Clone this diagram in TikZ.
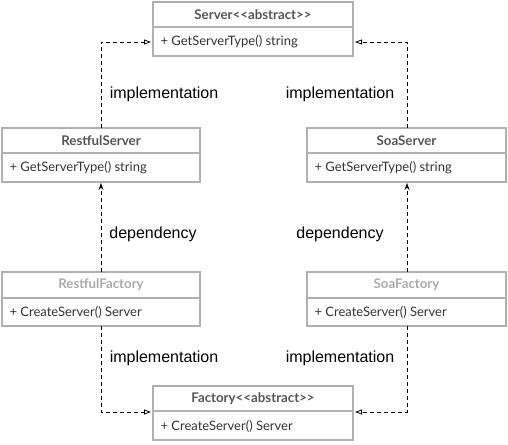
\documentclass[tikz,border=0pt]{standalone}
\usepackage{fontspec}
\setmainfont{Lato}
\newfontfamily\labfont{Liberation Sans}
\usetikzlibrary{arrows.meta}
\definecolor{boxgray}{HTML}{B0B0B0}
\definecolor{headtxt}{HTML}{555555}
\definecolor{lighttxt}{HTML}{AAAAAA}
\definecolor{bodytxt}{HTML}{333333}
\tikzset{
  boxline/.style={draw=boxgray, line width=1.3pt},
  headtext/.style={font=\fontsize{13.3}{15}\selectfont\bfseries, text=headtxt},
  headlight/.style={font=\fontsize{13.3}{15}\selectfont\bfseries, text=lighttxt},
  bodytext/.style={font=\fontsize{13}{15}\selectfont, text=bodytxt, anchor=west},
  conn/.style={draw=black, line width=0.8pt, dash pattern=on 4pt off 3pt},
  implarrow/.style={conn, -{Triangle[open, length=7pt, width=5pt, line width=0.8pt, sep=2pt]}},
  deparrow/.style={conn, -{Stealth[length=7pt, width=5pt, sep=1pt]}},
  lab/.style={font=\labfont\fontsize{16}{18}\selectfont, text=black}
}
\begin{document}
\begin{tikzpicture}[x=1pt, y=-1pt]
\useasboundingbox (0,0) rectangle (508,444);
% Server
\draw[boxline] (153,2) rectangle (353,56);
\draw[boxline] (153,27) -- (353,27);
\node[headtext] (serverH) at (253,14.5) {Server<{}<abstract>{}>};
\node[bodytext] (serverB) at (157,42) {+ GetServerType() string};
\coordinate (serverL) at (153,42);
\coordinate (serverR) at (353,42);
% RestfulServer
\draw[boxline] (2,128) rectangle (200,182);
\draw[boxline] (2,153) -- (200,153);
\node[headtext] (rsH) at (101,140.5) {RestfulServer};
\node[bodytext] (rsB) at (6,168) {+ GetServerType() string};
\coordinate (rsT) at (101,128);
\coordinate (rsBot) at (101,182);
% SoaServer
\draw[boxline] (307,128) rectangle (506,182);
\draw[boxline] (307,153) -- (506,153);
\node[headtext] (ssH) at (406.5,140.5) {SoaServer};
\node[bodytext] (ssB) at (311,168) {+ GetServerType() string};
\coordinate (ssT) at (407,128);
\coordinate (ssBot) at (407,182);
% RestfulFactory
\draw[boxline] (2,272) rectangle (200,326);
\draw[boxline] (2,298) -- (200,298);
\node[headlight] (rfH) at (101,285) {RestfulFactory};
\node[bodytext] (rfB) at (6,312) {+ CreateServer() Server};
\coordinate (rfT) at (101,272);
\coordinate (rfBot) at (101,326);
% SoaFactory
\draw[boxline] (307,272) rectangle (506,326);
\draw[boxline] (307,298) -- (506,298);
\node[headlight] (sfH) at (406.5,285) {SoaFactory};
\node[bodytext] (sfB) at (311,312) {+ CreateServer() Server};
\coordinate (sfT) at (407,272);
\coordinate (sfBot) at (407,326);
% Factory
\draw[boxline] (153,386) rectangle (353,440);
\draw[boxline] (153,411) -- (353,411);
\node[headtext] (facH) at (253,398.5) {Factory<{}<abstract>{}>};
\node[bodytext] (facB) at (157,426) {+ CreateServer() Server};
\coordinate (facL) at (153,412);
\coordinate (facR) at (353,412);
% connectors
\draw[implarrow] (rsT) |- (serverL);
\draw[implarrow] (ssT) |- (serverR);
\draw[deparrow] (rfT) -- (rsBot);
\draw[deparrow] (sfT) -- (ssBot);
\draw[implarrow] (rfBot) |- (facL);
\draw[implarrow] (sfBot) |- (facR);
% labels
\node[lab] (l1) at (164,94) {implementation};
\node[lab] (l2) at (340,94) {implementation};
\node[lab] (l3) at (153,234) {dependency};
\node[lab] (l4) at (340,234) {dependency};
\node[lab] (l5) at (164,358) {implementation};
\node[lab] (l6) at (340,358) {implementation};
\end{tikzpicture}
\end{document}
